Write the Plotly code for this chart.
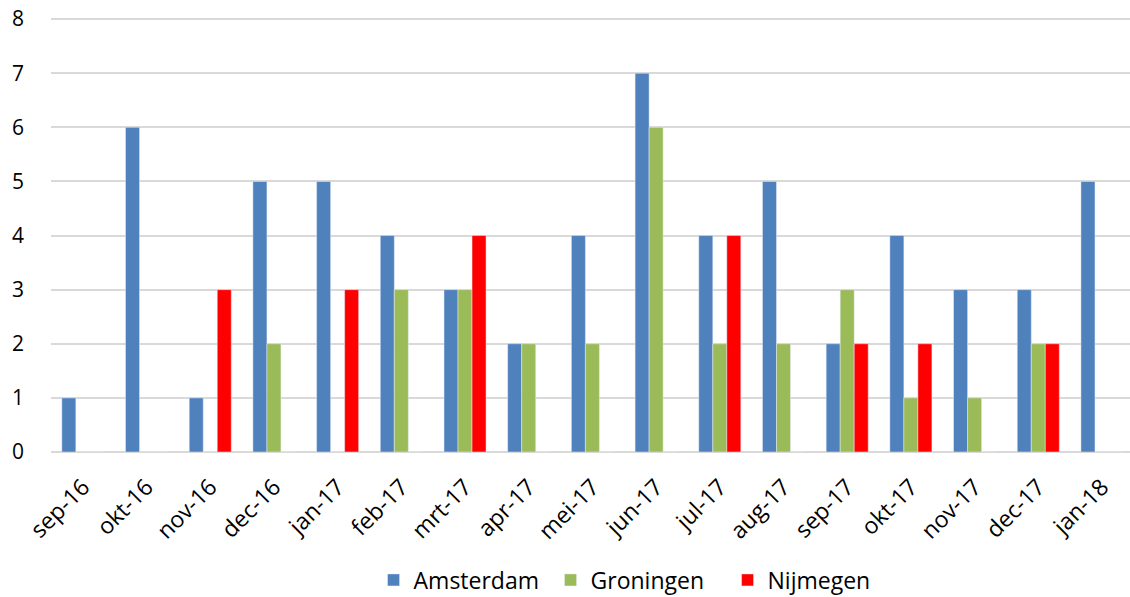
import plotly.graph_objects as go

months = ["sep-16", "okt-16", "nov-16", "dec-16", "jan-17", "feb-17", "mrt-17", "apr-17",
          "mei-17", "jun-17", "jul-17", "aug-17", "sep-17", "okt-17", "nov-17", "dec-17", "jan-18"]
amsterdam = [1, 6, 1, 5, 5, 4, 3, 2, 4, 7, 4, 5, 2, 4, 3, 3, 5]
groningen = [0, 0, 0, 2, 0, 3, 3, 2, 2, 6, 2, 2, 3, 1, 1, 2, 0]
nijmegen = [0, 0, 3, 0, 3, 0, 4, 0, 0, 0, 4, 0, 2, 2, 0, 2, 0]
y_ticks = [0, 1, 2, 3, 4, 5, 6, 7, 8]

FONT = "Open Sans"

fig = go.Figure()
fig.add_trace(go.Bar(name="Amsterdam", x=months, y=amsterdam, marker_color="#4F81BD"))
fig.add_trace(go.Bar(name="Groningen", x=months, y=groningen, marker_color="#9BBB59"))
fig.add_trace(go.Bar(name="Nijmegen", x=months, y=nijmegen, marker_color="#FF0000"))

fig.update_layout(
    width=1130, height=597,
    margin=dict(l=51, r=0, t=18, b=145, pad=0, autoexpand=False),
    barmode="group", bargap=0.34, bargroupgap=0,
    plot_bgcolor="white", paper_bgcolor="white",
    font=dict(family=FONT, color="#000000", size=21),
    legend=dict(orientation="h", x=0.545, xanchor="center", yref="container", y=0.0285, yanchor="middle",
                font=dict(size=23, family=FONT), itemwidth=30, entrywidth=132, traceorder="normal"),
    showlegend=True,
)
fig.update_xaxes(type="category", range=[-0.5, 16.44], tickangle=-45, showgrid=False, automargin=False,
                 showline=False, ticks="", ticklabelstandoff=16, tickfont=dict(size=23, family=FONT))
fig.update_yaxes(range=[0, 8.02], tickvals=y_ticks, showgrid=True, gridcolor="#D9D9D9", gridwidth=1.5,
                 zeroline=True, zerolinecolor="#D9D9D9", zerolinewidth=1.5, showline=False, automargin=False,
                 ticks="", ticklabelstandoff=26, ticklabeloverflow="allow", tickfont=dict(size=21, family=FONT))

fig.write_html("out.html", config={"displayModeBar": False},
               post_script="document.body.style.margin='0';")
